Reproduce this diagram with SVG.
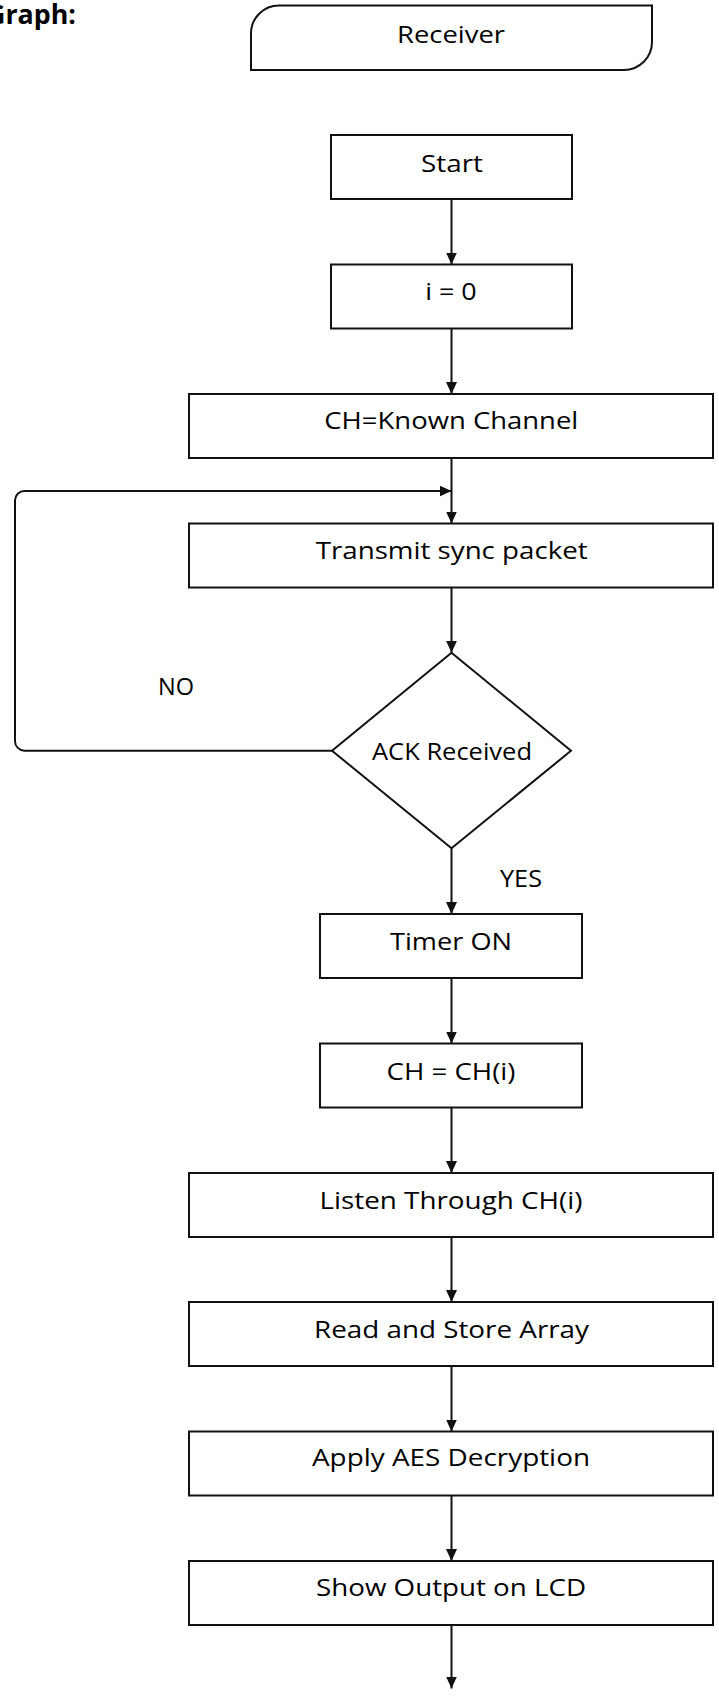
<svg xmlns="http://www.w3.org/2000/svg" width="719" height="1698" viewBox="0 0 719 1698">
  <style>
    .box { fill: #ffffff; stroke: #111111; stroke-width: 2; }
    .lbl { font-family: "Open Sans", "Liberation Sans", sans-serif; font-size: 24px; fill: #000000; text-anchor: middle; }
    .edge { fill: none; stroke: #111111; stroke-width: 2; }
    .title { font-family: "Open Sans", "Liberation Sans", sans-serif; font-size: 26px; font-weight: bold; fill: #000000; }
  </style>
  <defs>
    <marker id="arrow" viewBox="0 0 12 11" refX="12" refY="5.5" markerWidth="12" markerHeight="11" markerUnits="userSpaceOnUse" orient="auto">
      <path d="M0,0 L12,5.5 L0,11 Z" fill="#111111"/>
    </marker>
  </defs>
  <rect width="719" height="1698" fill="#ffffff"/>

  <text class="title" x="-14" y="23.5" textLength="90" lengthAdjust="spacingAndGlyphs">Graph:</text>

  <g id="receiver">
    <path class="box" d="M279,5.5 H652 V42 A28,28 0 0 1 624,70 H251 V33.5 A28,28 0 0 1 279,5.5 Z"/>
    <text class="lbl" x="451" y="42.5" textLength="108" lengthAdjust="spacingAndGlyphs">Receiver</text>
  </g>

  <g id="start">
    <rect class="box" x="331" y="135" width="241" height="64"/>
    <text class="lbl" x="452" y="171.5" textLength="62" lengthAdjust="spacingAndGlyphs">Start</text>
  </g>

  <g id="init-i">
    <rect class="box" x="331" y="264.5" width="241" height="64"/>
    <text class="lbl" x="451" y="300" textLength="51.5" lengthAdjust="spacingAndGlyphs">i = 0</text>
  </g>

  <g id="known-channel">
    <rect class="box" x="189" y="394" width="524" height="64"/>
    <text class="lbl" x="451.3" y="429.3" textLength="254" lengthAdjust="spacingAndGlyphs">CH=Known Channel</text>
  </g>

  <g id="transmit-sync">
    <rect class="box" x="189" y="523.5" width="524" height="64"/>
    <text class="lbl" x="451.7" y="559.3" textLength="272" lengthAdjust="spacingAndGlyphs">Transmit sync packet</text>
  </g>

  <g id="ack-received">
    <polygon class="box" points="451.5,652.7 571,750.7 451.5,848.3 332,750.7"/>
    <text class="lbl" x="452" y="760" textLength="160" lengthAdjust="spacingAndGlyphs">ACK Received</text>
  </g>

  <g id="timer-on">
    <rect class="box" x="320" y="914" width="262" height="64"/>
    <text class="lbl" x="451" y="950" textLength="122" lengthAdjust="spacingAndGlyphs">Timer ON</text>
  </g>

  <g id="set-channel">
    <rect class="box" x="320" y="1043.5" width="262" height="64"/>
    <text class="lbl" x="451" y="1080" textLength="129" lengthAdjust="spacingAndGlyphs">CH = CH(i)</text>
  </g>

  <g id="listen">
    <rect class="box" x="189" y="1173" width="524" height="64"/>
    <text class="lbl" x="451" y="1208.5" textLength="263" lengthAdjust="spacingAndGlyphs">Listen Through CH(i)</text>
  </g>

  <g id="read-store">
    <rect class="box" x="189" y="1302" width="524" height="64"/>
    <text class="lbl" x="451.5" y="1337.5" textLength="275" lengthAdjust="spacingAndGlyphs">Read and Store Array</text>
  </g>

  <g id="aes-decrypt">
    <rect class="box" x="189" y="1431.5" width="524" height="64"/>
    <text class="lbl" x="451" y="1466" textLength="278" lengthAdjust="spacingAndGlyphs">Apply AES Decryption</text>
  </g>

  <g id="show-output">
    <rect class="box" x="189" y="1561" width="524" height="64"/>
    <text class="lbl" x="451" y="1596" textLength="270" lengthAdjust="spacingAndGlyphs">Show Output on LCD</text>
  </g>

  <g id="connectors">
    <line class="edge" x1="451.5" y1="199" x2="451.5" y2="264.5" marker-end="url(#arrow)"/>
    <line class="edge" x1="451.5" y1="328.5" x2="451.5" y2="394" marker-end="url(#arrow)"/>
    <line class="edge" x1="451.5" y1="458" x2="451.5" y2="523.5" marker-end="url(#arrow)"/>
    <line class="edge" x1="451.5" y1="587.5" x2="451.5" y2="652.7" marker-end="url(#arrow)"/>
    <line class="edge" x1="451.5" y1="848.3" x2="451.5" y2="914" marker-end="url(#arrow)"/>
    <line class="edge" x1="451.5" y1="978" x2="451.5" y2="1043.5" marker-end="url(#arrow)"/>
    <line class="edge" x1="451.5" y1="1107.5" x2="451.5" y2="1173" marker-end="url(#arrow)"/>
    <line class="edge" x1="451.5" y1="1237" x2="451.5" y2="1302" marker-end="url(#arrow)"/>
    <line class="edge" x1="451.5" y1="1366" x2="451.5" y2="1431.5" marker-end="url(#arrow)"/>
    <line class="edge" x1="451.5" y1="1495.5" x2="451.5" y2="1561" marker-end="url(#arrow)"/>
    <line class="edge" x1="451.5" y1="1625" x2="451.5" y2="1688.5" marker-end="url(#arrow)"/>
    <!-- retry loop: NO branch back above the transmit step -->
    <path class="edge" d="M332,750.7 H24.5 A9.5,9.5 0 0 1 15,741.2 V500.5 A9.5,9.5 0 0 1 24.5,491 H451.5" marker-end="url(#arrow)"/>
    <text class="lbl" x="176" y="695" textLength="36" lengthAdjust="spacingAndGlyphs">NO</text>
    <text class="lbl" x="521" y="886.7" textLength="42" lengthAdjust="spacingAndGlyphs">YES</text>
  </g>
</svg>
